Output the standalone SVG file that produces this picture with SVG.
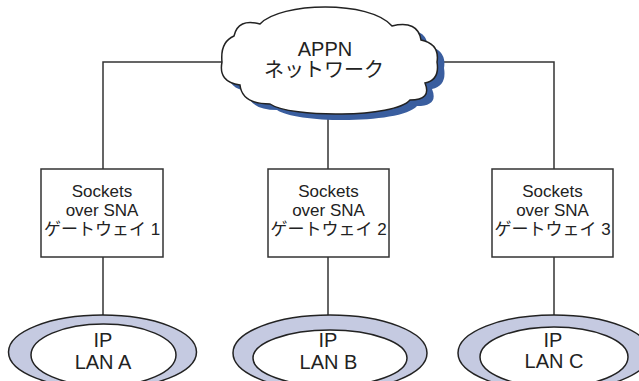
<svg xmlns="http://www.w3.org/2000/svg" width="639" height="381" viewBox="0 0 639 381">
<style>
.ln{fill:none;stroke:#333;stroke-width:1.5}
.box{fill:#fff;stroke:#333;stroke-width:1.5}
.ring{fill:#c5cae1;stroke:#222;stroke-width:1.5}
.inner{fill:#fff;stroke:#222;stroke-width:1.5}
.t{font-family:"Liberation Sans","Noto Sans CJK JP",sans-serif;fill:#222;text-anchor:middle}
.bt{font-size:17px}
.lt{font-size:20px}
</style>
<defs>
<path id="cloudShape" d="M222,62 Q220,42 234,36 Q238,18 260,24 C280,2 370,0 392,26 Q418,20 421,40 Q440,44 437,62 Q440,80 425,83 Q432,100 410,100 C395,118 290,118 270,104 Q242,104 240,85 Q218,82 222,62 Z"/>
</defs>
<g id="connectors">
<polyline class="ln" points="222,62 103,62 103,169"/>
<line class="ln" x1="103" y1="257" x2="103" y2="315"/>
<line class="ln" x1="328" y1="108" x2="328" y2="169"/>
<line class="ln" x1="328" y1="257" x2="328" y2="315"/>
<polyline class="ln" points="437,62 554,62 554,169"/>
<line class="ln" x1="554" y1="257" x2="554" y2="315"/>
</g>
<g id="cloud">
<use href="#cloudShape" transform="translate(7,6)" fill="#3a5e9f"/>
<use href="#cloudShape" fill="#fff" stroke="#222" stroke-width="1.5"/>
<text class="t lt" x="325" y="56">APPN</text>
<text class="t lt" x="324" y="77">ネットワーク</text>
</g>
<g id="gw1">
<rect class="box" x="41" y="169" width="122" height="88"/>
<text class="t bt" x="102" y="197">Sockets</text>
<text class="t bt" x="102" y="216">over SNA</text>
<text class="t bt" x="102" y="235">ゲートウェイ 1</text>
</g>
<g id="gw2">
<rect class="box" x="268" y="169" width="121" height="88"/>
<text class="t bt" x="328.5" y="197">Sockets</text>
<text class="t bt" x="328.5" y="216">over SNA</text>
<text class="t bt" x="328.5" y="235">ゲートウェイ 2</text>
</g>
<g id="gw3">
<rect class="box" x="492" y="169" width="121" height="88"/>
<text class="t bt" x="552.5" y="197">Sockets</text>
<text class="t bt" x="552.5" y="216">over SNA</text>
<text class="t bt" x="552.5" y="235">ゲートウェイ 3</text>
</g>
<g id="lanA">
<ellipse class="ring" cx="102.5" cy="352" rx="94" ry="37"/>
<ellipse class="inner" cx="103.5" cy="355" rx="72.5" ry="31"/>
<text class="t lt" x="103" y="347">IP</text>
<text class="t lt" x="103" y="369">LAN A</text>
</g>
<g id="lanB">
<ellipse class="ring" cx="330" cy="353" rx="97" ry="38"/>
<ellipse class="inner" cx="330" cy="358" rx="77" ry="28"/>
<text class="t lt" x="328" y="347">IP</text>
<text class="t lt" x="328.5" y="369">LAN B</text>
</g>
<g id="lanC">
<ellipse class="ring" cx="554" cy="353" rx="96" ry="38"/>
<ellipse class="inner" cx="554" cy="357" rx="74" ry="30"/>
<text class="t lt" x="553" y="347">IP</text>
<text class="t lt" x="554" y="368">LAN C</text>
</g>
</svg>
